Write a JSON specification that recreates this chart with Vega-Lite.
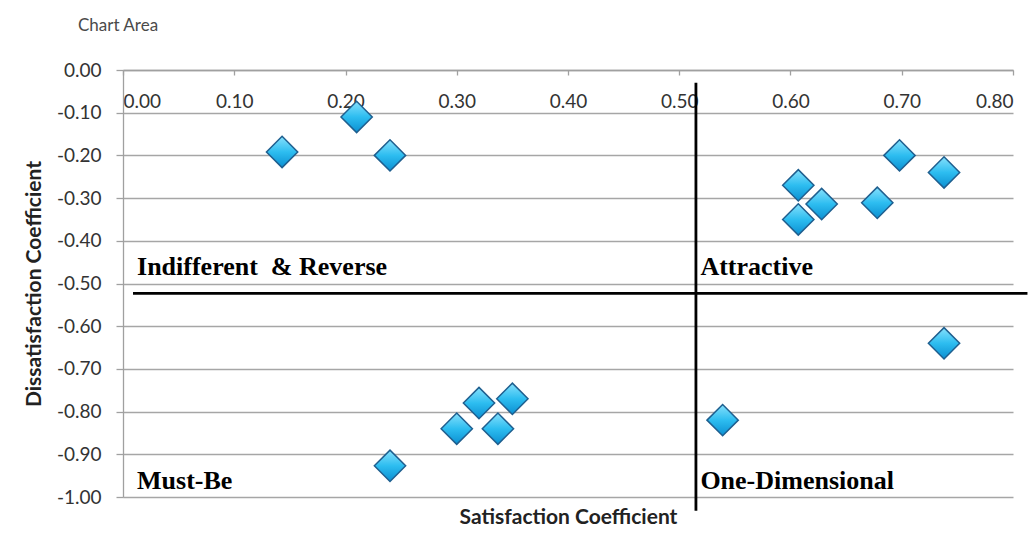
{
  "$schema": "https://vega.github.io/schema/vega-lite/v6.json",
  "width": 890,
  "height": 427,
  "autosize": "none",
  "padding": {"left": 123, "top": 70, "right": 18, "bottom": 59},
  "background": "white",
  "title": {"text": "Chart Area", "anchor": "start", "frame": "group", "dx": -45, "offset": 26, "fontSize": 17, "font": "Lato", "fontWeight": "normal", "color": "#4a4a4a"},
  "config": {"view": {"stroke": null}},
  "layer": [
    {
      "data": {"values": [
        {"s": 0.143, "d": -0.192},
        {"s": 0.21, "d": -0.11},
        {"s": 0.24, "d": -0.20},
        {"s": 0.607, "d": -0.27},
        {"s": 0.607, "d": -0.35},
        {"s": 0.628, "d": -0.314},
        {"s": 0.678, "d": -0.311},
        {"s": 0.698, "d": -0.20},
        {"s": 0.738, "d": -0.24},
        {"s": 0.738, "d": -0.64},
        {"s": 0.539, "d": -0.82},
        {"s": 0.35, "d": -0.77},
        {"s": 0.32, "d": -0.78},
        {"s": 0.30, "d": -0.84},
        {"s": 0.337, "d": -0.84},
        {"s": 0.24, "d": -0.927}
      ]},
      "mark": {"type": "point", "shape": "diamond", "size": 980, "filled": true, "opacity": 1,
        "fill": {"gradient": "linear", "x1": 0, "y1": 0, "x2": 0, "y2": 1, "stops": [{"offset": 0, "color": "#86e0fc"}, {"offset": 0.5, "color": "#2dbdf0"}, {"offset": 1, "color": "#0b8fd1"}]},
        "stroke": "#1f5f8f", "strokeWidth": 1.5},
      "encoding": {
        "x": {"field": "s", "type": "quantitative",
          "scale": {"domain": [0, 0.8], "nice": false, "zero": false},
          "axis": {"orient": "bottom", "offset": -427, "values": [0, 0.1, 0.2, 0.3, 0.4, 0.5, 0.6, 0.7, 0.8], "format": ".2f",
            "labelExpr": "replace(datum.label, '−', '-')",
            "domain": true, "domainColor": "#a0a0a0", "domainWidth": 1.3,
            "ticks": true, "tickColor": "#a0a0a0", "tickSize": 5, "tickWidth": 1.3,
            "labelPadding": 17, "labelFontSize": 19, "labelFont": "Lato", "labelColor": "#333333",
            "grid": false,
            "title": "Satisfaction Coefficient", "titleY": 436, "titleBaseline": "top",
            "titleFontSize": 21, "titleFont": "Lato", "titleFontWeight": "bold", "titleColor": "#222222"}},
        "y": {"field": "d", "type": "quantitative",
          "scale": {"domain": [-1, 0], "nice": false, "zero": false},
          "axis": {"orient": "left", "values": [0, -0.1, -0.2, -0.3, -0.4, -0.5, -0.6, -0.7, -0.8, -0.9, -1], "format": ".2f",
            "labelExpr": "replace(datum.label, '−', '-')",
            "domain": true, "domainColor": "#a0a0a0", "domainWidth": 1.3,
            "ticks": true, "tickColor": "#a0a0a0", "tickSize": 7, "tickWidth": 1.3,
            "grid": true, "gridColor": "#a6a6a6", "gridWidth": 1.3,
            "labelPadding": 15, "labelFontSize": 19, "labelFont": "Lato", "labelColor": "#333333",
            "title": "Dissatisfaction Coefficient", "titlePadding": 12,
            "titleFontSize": 21, "titleFont": "Lato", "titleFontWeight": "bold", "titleColor": "#222222"}}
      }
    },
    {
      "data": {"values": [
        {"x": 0.515, "x2": 0.515, "y": -0.03, "y2": -1.032},
        {"x": 0.009, "x2": 0.813, "y": -0.523, "y2": -0.523}
      ]},
      "mark": {"type": "rule", "color": "#000000", "strokeWidth": 2.8},
      "encoding": {
        "x": {"field": "x", "type": "quantitative"},
        "x2": {"field": "x2"},
        "y": {"field": "y", "type": "quantitative"},
        "y2": {"field": "y2"}
      }
    },
    {
      "data": {"values": [
        {"label": "Indifferent\u00a0 & Reverse", "lx": 0.0126, "ly": -0.48},
        {"label": "Attractive", "lx": 0.519, "ly": -0.48},
        {"label": "Must-Be", "lx": 0.0126, "ly": -0.981},
        {"label": "One-Dimensional", "lx": 0.519, "ly": -0.981}
      ]},
      "mark": {"type": "text", "align": "left", "baseline": "alphabetic", "font": "Liberation Serif", "fontWeight": "bold", "fontSize": 26, "color": "#000000"},
      "encoding": {
        "x": {"field": "lx", "type": "quantitative"},
        "y": {"field": "ly", "type": "quantitative"},
        "text": {"field": "label"}
      }
    }
  ]
}
